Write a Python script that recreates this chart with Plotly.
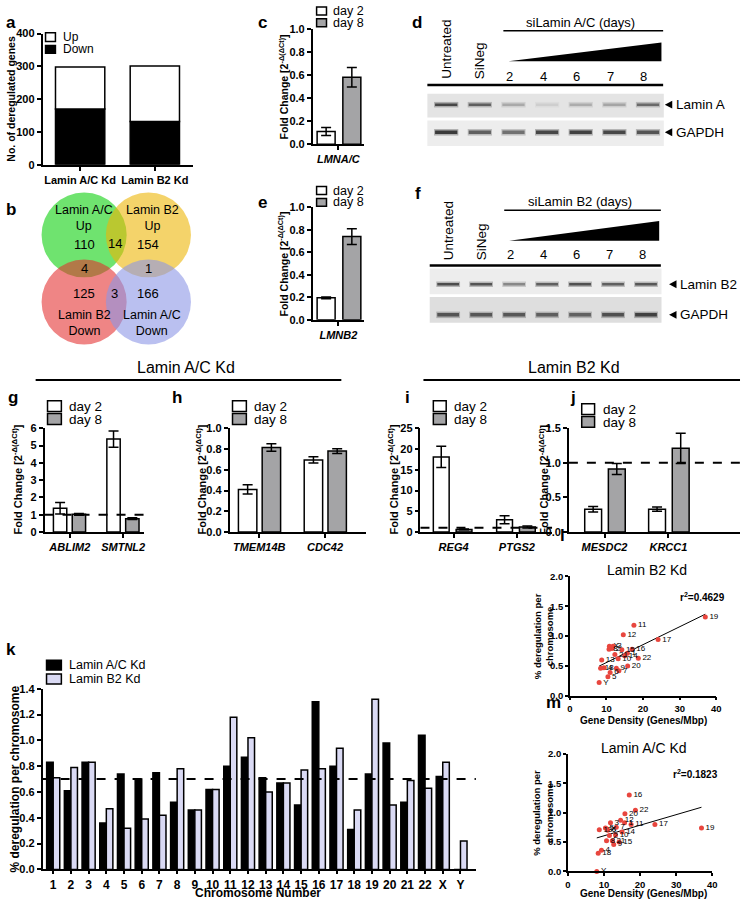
import numpy as np
import plotly.graph_objects as go

W, H = 746, 906
FONT = "Liberation Sans"

# ---------------- data ----------------
# (a) deregulated genes
a_groups = ["Lamin A/C Kd", "Lamin B2 Kd"]
a_down = [170, 132]
a_up = [128, 169]

# (b) Venn diagram counts
venn_sets = ["Lamin A/C<br>Up", "Lamin B2<br>Up", "Lamin B2<br>Down", "Lamin A/C<br>Down"]
venn_counts = [110, 14, 154, 4, 1, 125, 3, 166]

# (c), (e) knockdown efficiency
c_gene = ["LMNA/C"]
c_day2, c_day2_err = [0.11], [0.035]
c_day8, c_day8_err = [0.58], [0.085]
e_gene = ["LMNB2"]
e_day2, e_day2_err = [0.195], [0.008]
e_day8, e_day8_err = [0.74], [0.07]

# (g)-(j) qPCR validation
g_genes = ["ABLIM2", "SMTNL2"]
g_day2, g_day2_err = [1.37, 5.38], [0.33, 0.47]
g_day8, g_day8_err = [1.02, 0.77], [0.05, 0.05]
h_genes = ["TMEM14B", "CDC42"]
h_day2, h_day2_err = [0.41, 0.695], [0.045, 0.03]
h_day8, h_day8_err = [0.815, 0.78], [0.037, 0.022]
i_genes = ["REG4", "PTGS2"]
i_day2, i_day2_err = [18.1, 2.95], [2.55, 0.95]
i_day8, i_day8_err = [0.6, 1.2], [0.1, 0.25]
j_genes = ["MESDC2", "KRCC1"]
j_day2, j_day2_err = [0.33, 0.33], [0.04, 0.03]
j_day8, j_day8_err = [0.91, 1.21], [0.08, 0.22]

# (k) per chromosome deregulation
chromosomes = [str(n) for n in range(1, 23)] + ["X", "Y"]
k_lamin_ac = [0.83, 0.61, 0.83, 0.36, 0.74, 0.70, 0.75, 0.52, 0.46, 0.62, 0.80, 0.87,
              0.71, 0.67, 0.50, 1.30, 0.80, 0.31, 0.74, 0.98, 0.52, 1.04, 0.72, 0.0]
k_lamin_b2 = [0.71, 0.79, 0.83, 0.47, 0.32, 0.39, 0.42, 0.78, 0.46, 0.62, 1.18, 1.02,
              0.60, 0.67, 0.77, 0.78, 0.94, 0.46, 1.32, 0.50, 0.69, 0.63, 0.83, 0.22]

# (l), (m) gene density per chromosome
gene_density = [15.7, 11.5, 11.8, 9.3, 10.4, 11.0, 13.4, 10.7, 12.7, 13.2, 17.5, 14.6,
                8.7, 15.0, 14.2, 17.0, 24.1, 8.4, 37.0, 15.8, 12.3, 18.7, 10.8, 8.0]
l_r2_text = "r<sup>2</sup>=0.4629"
m_r2_text = "r<sup>2</sup>=0.1823"

# (d), (f) western blots: band darkness per lane
blot_lanes = ["Untreated", "SiNeg", "2", "4", "6", "7", "8"]
d_laminA = [0.85, 0.72, 0.32, 0.12, 0.30, 0.34, 0.66]
d_gapdh = [0.92, 0.72, 0.62, 0.85, 0.88, 0.85, 0.78]
f_laminB2 = [0.82, 0.78, 0.50, 0.72, 0.80, 0.72, 0.76]
f_gapdh = [0.78, 0.76, 0.76, 0.72, 0.70, 0.80, 0.88]

WHITE = "#FFFFFF"
GRAY = "#A4A4A6"
BLACK = "#000000"
LAV = "#DADAF4"

# ---------------- helpers ----------------
def PX(p):
    return p / W

def PY(p):
    return 1 - p / H

fig = go.Figure()
layout = {}
shapes = []
annotations = []


def sfx(i):
    return "" if i == 1 else str(i)


def set_axes(i, xd, yd, xkw=None, ykw=None, hidden=False):
    s = sfx(i)
    base = dict(showgrid=False, zeroline=False, showline=True, linecolor="black", linewidth=1.5,
                ticks="outside", ticklen=4, tickwidth=1.5, tickcolor="black",
                tickfont=dict(family=FONT, size=11, color="black", weight="bold"))
    if hidden:
        base = dict(visible=False, showgrid=False, zeroline=False)
    xa = dict(base)
    xa.update(domain=[PX(xd[0]), PX(xd[1])], anchor="y" + s)
    ya = dict(base)
    ya.update(domain=[PY(yd[1]), PY(yd[0])], anchor="x" + s)
    if xkw:
        xa.update(xkw)
    if ykw:
        ya.update(ykw)
    layout["xaxis" + s] = xa
    layout["yaxis" + s] = ya


def add_bars(i, cats, vals, errs, color, width, offset, base=None, lw=1.5):
    s = sfx(i)
    kw = dict(x=cats, y=vals, width=width, offset=offset, xaxis="x" + s, yaxis="y" + s,
              marker=dict(color=color, line=dict(color="black", width=lw)), hoverinfo="skip")
    if errs is not None:
        kw["error_y"] = dict(type="data", array=errs, color="black", thickness=1.5, width=5)
    if base is not None:
        kw["base"] = base
    fig.add_trace(go.Bar(**kw))


def ann(text, x, y, size=12, bold=False, italic=False, xanchor="center", yanchor="middle",
        angle=0, xref="paper", yref="paper", color="black"):
    if xref == "paper":
        x = PX(x)
    if yref == "paper":
        y = PY(y)
    annotations.append(dict(text=text, x=x, y=y, xref=xref, yref=yref, showarrow=False,
                            xanchor=xanchor, yanchor=yanchor, textangle=angle,
                            font=dict(family=FONT, size=size, color=color,
                                      weight="bold" if bold else "normal",
                                      style="italic" if italic else "normal")))


def legend_box(x0, y0, x1, y1, color):
    shapes.append(dict(type="rect", xref="paper", yref="paper", x0=PX(x0), x1=PX(x1),
                       y0=PY(y1), y1=PY(y0), fillcolor=color, line=dict(color="black", width=1.5)))


def hline_paper(x0, x1, y, width=2, dash="solid"):
    shapes.append(dict(type="line", xref="paper", yref="paper", x0=PX(x0), x1=PX(x1),
                       y0=PY(y), y1=PY(y), line=dict(color="black", width=width, dash=dash)))


def dashed_ref(i, yval):
    s = sfx(i)
    shapes.append(dict(type="line", xref="x" + s + " domain", yref="y" + s, x0=0, x1=1,
                       y0=yval, y1=yval, line=dict(color="black", width=2, dash="dash"),
                       layer="above"))


FC_TITLE = "Fold Change [2<sup>-Δ(ΔCt)</sup>]"

# ---------------- (a) ----------------
set_axes(1, (40, 192), (28, 161),
         xkw=dict(type="category", range=[-0.503, 1.51], tickfont=dict(family=FONT, size=11, weight="bold")),
         ykw=dict(range=[0, 400], dtick=100))
add_bars(1, a_groups, a_down, None, BLACK, 0.66, -0.33)
add_bars(1, a_groups, a_up, None, WHITE, 0.66, -0.33, base=a_down)
ann("a", 8, 17, size=17, bold=True)
ann("No. of deregulated genes", 8, 94, size=10.5, bold=True, angle=-90)
legend_box(43, 27, 53, 36, WHITE)
legend_box(43, 40, 53, 48, BLACK)
ann("Up", 59, 31, size=12, xanchor="left")
ann("Down", 59, 44, size=12, xanchor="left")

# ---------------- (b) Venn ----------------
set_axes(13, (30, 200), (180, 350), xkw=dict(range=[30, 200]), ykw=dict(range=[350, 180]), hidden=True)
venn_circles = [(82, 232, "rgba(15,208,15,0.6)"), (147, 232, "rgba(237,182,7,0.6)"),
                (82, 300, "rgba(227,45,45,0.58)"), (147, 300, "rgba(140,150,230,0.6)")]
R = 43
for cx, cy, col in venn_circles:
    shapes.append(dict(type="circle", xref="x13", yref="y13", x0=cx - R, x1=cx + R, y0=cy - R, y1=cy + R,
                       fillcolor=col, line=dict(width=0), layer="below"))
set_label_pos = [(82, 215), (151, 215), (82, 321), (151, 321)]
for lab, (x, y) in zip(venn_sets, set_label_pos):
    ann(lab, x, y, size=12.5, xref="x13", yref="y13")
count_pos = [(82, 242), (113, 241), (147, 242), (82, 266), (147, 266), (82, 291), (113, 291), (147, 291)]
for cnt, (x, y) in zip(venn_counts, count_pos):
    ann(str(cnt), x, y, size=13, xref="x13", yref="y13")
ann("b", 8, 206, size=17, bold=True)

# ---------------- (c), (e) ----------------
for idx, gene, d2, d2e, d8, d8e, yd, letter, ly in [
        (2, c_gene, c_day2, c_day2_err, c_day8, c_day8_err, (23, 140), "c", 0),
        (3, e_gene, e_day2, e_day2_err, e_day8, e_day8_err, (204, 318), "e", 182)]:
    set_axes(idx, (313, 365), yd,
             xkw=dict(type="category", range=[-0.5, 0.5],
                      tickfont=dict(family=FONT, size=11, weight="bold", style="italic")),
             ykw=dict(range=[0, 1.0], dtick=0.2, tickformat=".1f"))
    add_bars(idx, gene, d2, d2e, WHITE, 0.35, -0.413)
    add_bars(idx, gene, d8, d8e, GRAY, 0.35, 0.087)
    legend_box(317, ly + 1, 327, ly + 9, WHITE)
    legend_box(317, ly + 13, 327, ly + 21, GRAY)
    ann("day 2", 332, ly + 5, size=12.5, xanchor="left")
    ann("day 8", 332, ly + 17, size=12.5, xanchor="left")
    ann(letter, 262, ly + 17, size=17, bold=True)
    ann(FC_TITLE, 283, (yd[0] + yd[1]) / 2, size=10.5, bold=True, angle=-90)

# ---------------- (d), (f) western blots ----------------
def blot(idx, xd, yd, lane0, spacing, title, title_y, title_line_y, tri_y0, tri_y1,
         lab_bottom, num_y, thick_y, strips, bands_list, band_labels, label_x):
    s = sfx(idx)
    xr = [(xd[0] - lane0) / spacing, (xd[1] - lane0) / spacing]
    set_axes(idx, xd, yd, xkw=dict(range=xr), ykw=dict(range=[yd[1], yd[0]]), hidden=True)
    xa, ya = "x" + s, "y" + s
    left = -0.56
    right = 6.45
    ann(title, 4.0, title_y, size=13, xref=xa, yref=ya)
    shapes.append(dict(type="line", xref=xa, yref=ya, x0=1.7, x1=right, y0=title_line_y, y1=title_line_y,
                       line=dict(color="black", width=1.5)))
    shapes.append(dict(type="path", xref=xa, yref=ya,
                       path=f"M 1.85 {tri_y1} L {right - 0.05} {tri_y0} L {right - 0.05} {tri_y1} Z",
                       fillcolor="black", line=dict(width=0)))
    for li, lab in enumerate(blot_lanes):
        if li < 2:
            ann(lab, li, lab_bottom, size=13.5, angle=-90, xref=xa, yref=ya, yanchor="bottom")
        else:
            ann(lab, li - 0.12, num_y, size=13, xref=xa, yref=ya)
    shapes.append(dict(type="line", xref=xa, yref=ya, x0=left, x1=right, y0=thick_y, y1=thick_y,
                       line=dict(color="black", width=2.5)))
    for (sy0, sy1, scol), bands, (by, bw, blab) in zip(strips, bands_list, band_labels):
        shapes.append(dict(type="rect", xref=xa, yref=ya, x0=left, x1=right + 0.02, y0=sy0, y1=sy1,
                           fillcolor=scol, line=dict(width=0), layer="below"))
        for li, v in enumerate(bands):
            g = int(round(228 - v * 185))
            col = f"rgb({g},{g},{g})"
            shapes.append(dict(type="line", xref=xa, yref=ya, x0=li - 0.36, x1=li + 0.36, y0=by, y1=by,
                               line=dict(color=col, width=bw + 3), opacity=0.35))
            shapes.append(dict(type="line", xref=xa, yref=ya, x0=li - 0.33, x1=li + 0.33, y0=by, y1=by,
                               line=dict(color=col, width=bw)))
        # pointer triangle + label
        tw = 7.5 / spacing
        shapes.append(dict(type="path", xref=xa, yref=ya,
                           path=f"M {label_x} {by} L {label_x + tw} {by - 4} L {label_x + tw} {by + 4} Z",
                           fillcolor="black", line=dict(width=0)))
        ann(blab, label_x + tw + 1.5 / spacing, by, size=13.5, xref=xa, yref=ya, xanchor="left")


blot(11, (425, 746), (0, 146), 448, 34.0, "siLamin A/C (days)", 17, 25, 37, 56, 76, 71, 80,
     [(89, 113, "#E4E4E4"), (116, 142, "#EDEDED")], [d_laminA, d_gapdh],
     [(100, 2.5, "Lamin A"), (128, 3.5, "GAPDH")], 6.5)
ann("d", 418, 17, size=17, bold=True)
blot(12, (425, 746), (178, 326), 450, 33.33, "siLamin B2 (days)", 198, 207, 218, 238, 260, 252, 263,
     [(266, 292, "#EDEDED"), (295, 321, "#DEDEDE")], [f_laminB2, f_gapdh],
     [(282, 2.5, "Lamin B2"), (313, 3.5, "GAPDH")], 6.7)
ann("f", 420, 190, size=17, bold=True)

# ---------------- (g)-(j) ----------------
hline_paper(33, 342, 379, width=2)
ann("Lamin A/C Kd", 185, 366, size=16)
hline_paper(425, 745, 379, width=2)
ann("Lamin B2 Kd", 577, 366, size=16)

qpcr = [
    (4, g_genes, g_day2, g_day2_err, g_day8, g_day8_err, (42, 143), [-0.472, 1.398], [0, 6], 1, None,
     0.25, -0.306, 0.046, True, "g", 10, (45, 59), 400, 14),
    (5, h_genes, h_day2, h_day2_err, h_day8, h_day8_err, (229, 367), [-0.451, 1.624], [0, 1.0], 0.2, ".1f",
     0.28, -0.316, 0.045, False, "h", 176, (232, 246), 400, 200),
    (6, i_genes, i_day2, i_day2_err, i_day8, i_day8_err, (422, 555), [-0.523, 1.555], [0, 25], 5, None,
     0.25, -0.32, 0.04, True, "i", 409, (435, 448), 400, 394),
    (7, j_genes, j_day2, j_day2_err, j_day8, j_day8_err, (572, 745), [-0.558, 2.12], [0, 1.5], 0.5, ".1f",
     0.264, -0.31, 0.06, True, "j", 576, (585, 598), 403, 546),
]
for (idx, genes, d2, d2e, d8, d8e, xd, xr, yr, dt, fmt, bw, o2, o8, dash, letter, lx, (bx0, bx1), by,
     ttl_x) in qpcr:
    ykw = dict(range=yr, dtick=dt)
    if fmt:
        ykw["tickformat"] = fmt
    set_axes(idx, xd, (428, 533),
             xkw=dict(type="category", range=xr,
                      tickfont=dict(family=FONT, size=11, weight="bold", style="italic")),
             ykw=ykw)
    add_bars(idx, genes, d2, d2e, WHITE, bw, o2)
    add_bars(idx, genes, d8, d8e, GRAY, bw, o8)
    if dash:
        dashed_ref(idx, 1.0)
    legend_box(bx0, by, bx1, by + 11, WHITE)
    legend_box(bx0, by + 13, bx1, by + 24, GRAY)
    ann("day 2", bx1 + 6, by + 6, size=13.5, xanchor="left")
    ann("day 8", bx1 + 6, by + 19, size=13.5, xanchor="left")
    ann(letter, lx, 397, size=17, bold=True)
    ann(FC_TITLE, ttl_x, 480, size=11, bold=True, angle=-90)

# ---------------- (k) ----------------
set_axes(8, (40, 478), (692, 875),
         xkw=dict(type="category", range=[-0.6, 23.87], ticklen=3,
                  tickfont=dict(family=FONT, size=12, weight="bold")),
         ykw=dict(range=[0, 1.4], dtick=0.2, tickformat=".1f"))
add_bars(8, chromosomes, k_lamin_ac, None, BLACK, 0.37, -0.37)
add_bars(8, chromosomes, k_lamin_b2, None, LAV, 0.37, 0.0)
dashed_ref(8, 0.7)
ann("k", 8, 652, size=17, bold=True)
legend_box(44, 663, 59, 673, BLACK)
legend_box(44, 677, 59, 687, LAV)
ann("Lamin A/C Kd", 65, 668, size=12.5, xanchor="left")
ann("Lamin B2 Kd", 65, 682, size=12.5, xanchor="left")
ann("% deregulation per chromosome", 12, 783, size=12, bold=True, angle=-90)
ann("Chromosome Number", 258, 899, size=12, bold=True)

# ---------------- (l), (m) ----------------
for idx, yvals, xd, yd, title, ty, r2, r2xy, letter, lxy, xt_y in [
        (9, k_lamin_b2, (573, 721), (578, 699), "Lamin B2 Kd", 572, l_r2_text, (707, 599), "l", (566, 537), 724),
        (10, k_lamin_ac, (571, 717), (758, 877), "Lamin A/C Kd", 752, m_r2_text, (700, 778), "m", (556, 706), 899)]:
    s = sfx(idx)
    set_axes(idx, xd, yd,
             xkw=dict(range=[0, 40], dtick=10, ticklen=3,
                      tickfont=dict(family=FONT, size=9.5, weight="bold")),
             ykw=dict(range=[0, 2.0], dtick=0.5, tickformat=".1f", ticklen=3,
                      tickfont=dict(family=FONT, size=9.5, weight="bold")))
    xs = np.array(gene_density)
    ys = np.array(yvals)
    slope, icpt = np.polyfit(xs, ys, 1)
    xl = np.array([xs.min(), xs.max()])
    fig.add_trace(go.Scatter(x=xl, y=slope * xl + icpt, mode="lines", xaxis="x" + s, yaxis="y" + s,
                             line=dict(color="black", width=1), hoverinfo="skip"))
    fig.add_trace(go.Scatter(x=gene_density, y=yvals, mode="markers+text", text=chromosomes,
                             textposition="middle right", xaxis="x" + s, yaxis="y" + s,
                             textfont=dict(family=FONT, size=8, color="black"),
                             marker=dict(color="#E8463E", size=5), hoverinfo="skip", cliponaxis=False))
    ann(title, (xd[0] + xd[1]) / 2 + 4, ty, size=14)
    ann(r2, r2xy[0], r2xy[1], size=10, bold=True)
    ann(letter, lxy[0], lxy[1], size=17, bold=True)
    ann("% deregulation per<br>chromosome", 546, (yd[0] + yd[1]) / 2, size=9.5, bold=True, angle=-90)
    ann("Gene Density (Genes/Mbp)", 647, xt_y, size=10, bold=True)

layout.update(width=W, height=H, margin=dict(l=0, r=0, t=0, b=0), showlegend=False,
              plot_bgcolor="white", paper_bgcolor="white", hovermode=False,
              font=dict(family=FONT, color="black"), shapes=shapes, annotations=annotations)
fig.update_layout(**layout)
fig.write_html("out.html", config={"displayModeBar": False},
               post_script="document.body.style.margin='0px';")
